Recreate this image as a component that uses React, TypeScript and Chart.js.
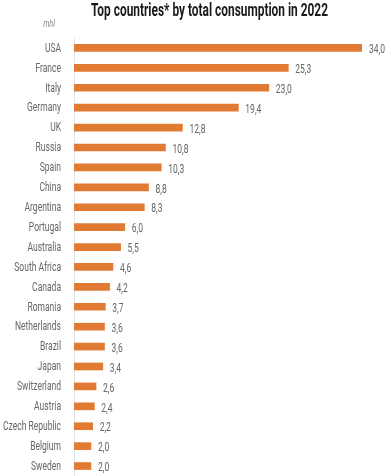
import React, { useEffect, useRef } from "react";
import { Chart, registerables } from "chart.js";

Chart.register(...registerables);

const countries = [
  "USA", "France", "Italy", "Germany", "UK", "Russia", "Spain", "China", "Argentina",
  "Portugal", "Australia", "South Africa", "Canada", "Romania", "Netherlands", "Brazil",
  "Japan", "Switzerland", "Austria", "Czech Republic", "Belgium", "Sweden",
];
const consumption = [
  34.0, 25.3, 23.0, 19.4, 12.8, 10.8, 10.3, 8.8, 8.3, 6.0, 5.5, 4.6, 4.2, 3.7, 3.6, 3.6,
  3.4, 2.6, 2.4, 2.2, 2.0, 2.0,
];
const titleText = "Top countries* by total consumption in 2022";
const unitText = "mhl";

const FONT = "Roboto, 'DejaVu Sans', sans-serif";

function drawText(
  c: CanvasRenderingContext2D,
  text: string,
  x: number,
  y: number,
  align: "left" | "right" | "center",
  font: string,
  sx: number,
  color: string
) {
  c.save();
  c.font = font;
  c.fillStyle = color;
  c.textBaseline = "middle";
  c.textAlign = align;
  c.translate(x, y);
  c.scale(sx, 1);
  c.fillText(text, 0, 0);
  c.restore();
}

export default function App() {
  const ref = useRef<HTMLCanvasElement>(null);
  useEffect(() => {
    document.body.style.margin = "0";
    const ctx = ref.current!.getContext("2d")!;
    const textPlugin = {
      id: "texts",
      afterDatasetsDraw(chart: any) {
        const c: CanvasRenderingContext2D = chart.ctx;
        c.save();
        const tFont = `bold 18px ${FONT}`;
        c.font = tFont;
        const tw = c.measureText(titleText).width;
        c.restore();
        drawText(c, titleText, 91, 11, "left", tFont, 237 / tw, "#1a1a1a");

        const lFont = `13px ${FONT}`;
        c.save();
        c.font = lFont;
        const cw = c.measureText("Czech Republic").width;
        c.restore();
        const sx = 58 / cw;

        drawText(c, unitText, 49, 24, "center", `italic 11px ${FONT}`, sx, "#888");

        const yScale = chart.scales.y;
        const meta = chart.getDatasetMeta(0);
        countries.forEach((name, i) => {
          const y = yScale.getPixelForValue(i);
          drawText(c, name, 61, y + 0.5, "right", lFont, sx, "#666");
        });
        meta.data.forEach((el: any, i: number) => {
          const v = consumption[i].toFixed(1).replace(".", ",");
          drawText(c, v, el.x + 7, el.y + 2, "left", lFont, sx, "#666");
        });
      },
    };
    const chart = new Chart(ctx, {
      type: "bar",
      data: {
        labels: countries,
        datasets: [
          {
            data: consumption,
            backgroundColor: "#E17B34",
            barThickness: 7,
          },
        ],
      },
      options: {
        indexAxis: "y",
        animation: false,
        responsive: true,
        maintainAspectRatio: false,
        layout: { padding: { top: 38, right: 29, bottom: 0, left: 0 } },
        plugins: { legend: { display: false }, tooltip: { enabled: false } },
        scales: {
          x: { display: false, min: 0, max: 34 },
          y: {
            grid: { display: false, drawTicks: false },
            border: { display: true, color: "#e6e6e6", width: 1 },
            ticks: { display: false },
            afterFit: (axis: any) => {
              axis.width = 74;
            },
          },
        },
      },
      plugins: [textPlugin],
    });
    return () => chart.destroy();
  }, []);
  return (
    <div style={{ position: "relative", width: 391, height: 476 }}>
      <canvas ref={ref} />
    </div>
  );
}
